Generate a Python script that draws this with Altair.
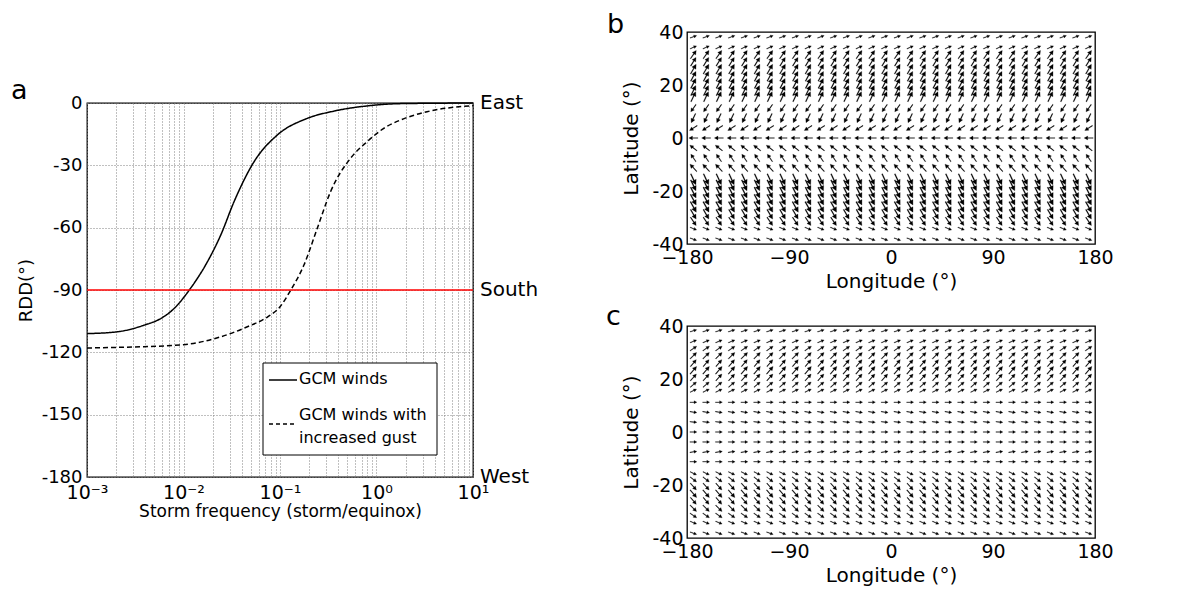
import altair as alt
import pandas as pd

FONT = "DejaVu Sans"

# ---------------- Panel a data ----------------
solid_x = [0.001, 0.00207, 0.00392, 0.00583, 0.0080, 0.01145, 0.0177, 0.0243, 0.0334,
           0.0538, 0.0938, 0.192, 0.362, 0.80, 1.77, 10]
solid_y = [-111.0, -110.1, -106.9, -103.7, -98.9, -90.1, -76.4, -63.6, -47.5,
           -28.3, -15.4, -7.4, -3.9, -1.4, -0.3, 0.0]
dash_x = [0.001, 0.00309, 0.01, 0.0225, 0.0459, 0.074, 0.1, 0.129, 0.177, 0.243,
          0.334, 0.538, 0.80, 1.19, 1.77, 3.34, 10]
dash_y = [-117.9, -117.4, -116.3, -113.0, -107.7, -103.0, -98.1, -90.1, -78.0, -60.4,
          -42.7, -26.6, -18.6, -12.2, -8.2, -4.2, -1.3]
series_names = ["GCM winds", "GCM winds with increased gust"]
legend_lines = ["GCM winds", "GCM winds with", "increased gust"]

x_major = [0.001, 0.01, 0.1, 1, 10]
x_major_labels = ["10⁻³", "10⁻²", "10⁻¹", "10⁰", "10¹"]
x_grid = [0.001, 0.002, 0.003, 0.004, 0.005, 0.006, 0.007, 0.008, 0.009,
          0.01, 0.02, 0.03, 0.04, 0.05, 0.06, 0.07, 0.08, 0.09,
          0.1, 0.2, 0.3, 0.4, 0.5, 0.6, 0.7, 0.8, 0.9,
          1, 2, 3, 4, 5, 6, 7, 8, 9, 10]
y_ticks = [-180, -150, -120, -90, -60, -30, 0]
dir_names = ["East", "South", "West"]
dir_values = [0, -90, -180]
south_line = [-90]

# ---------------- Panels b, c data ----------------
lon_centers = [-174.375, -163.125, -151.875, -140.625, -129.375, -118.125, -106.875, -95.625,
               -84.375, -73.125, -61.875, -50.625, -39.375, -28.125, -16.875, -5.625,
               5.625, 16.875, 28.125, 39.375, 50.625, 61.875, 73.125, 84.375,
               95.625, 106.875, 118.125, 129.375, 140.625, 151.875, 163.125, 174.375]
lat_rows = [38.2, 34.2, 31.5, 28.8, 26.0, 23.3, 20.6, 17.9, 15.6,
            11.25, 7.5, 3.75, 0.0, -3.75, -7.5, -11.25,
            -15.6, -17.9, -20.6, -23.3, -26.0, -28.8, -31.5, -34.2, -38.2]
# wind direction (degrees counter-clockwise from east) and relative speed per latitude row
b_dir = [20, 25, 55, 58, 60, 62, 63, 64, 65,
         235, 245, 212, 180, 142, 124, 133,
         295, 296, 297, 298, 299, 300, 304, 338, 340]
b_speed = [7, 7, 10, 10, 11, 11, 11, 11, 11,
           9, 10, 9, 9, 9, 9, 10,
           12, 12, 12, 12, 12, 11, 10, 7, 7]
c_dir = [18, 22, 35, 45, 50, 50, 48, 40, 25,
         0, 352, 355, 0, 0, 8, 0,
         335, 322, 312, 310, 310, 315, 325, 338, 340]
c_speed = [7, 7, 8, 9, 9, 10, 9, 8, 7,
           7, 7, 7, 7, 7, 7, 7,
           7, 8, 9, 10, 9, 9, 8, 7, 7]
lon_ticks = [-180, -90, 0, 90, 180]
lat_ticks = [-40, -20, 0, 20, 40]
panel_labels = ["a", "b", "c"]

ARROW = "M-1,-0.08L0.2,-0.08L0.2,-0.42L1,0L0.2,0.42L0.2,0.08L-1,0.08Z"

W_A, H_A = 386, 374
W_Q, H_Q = 408, 212

# ---------------- Panel a ----------------
label_expr = "".join(f"datum.value == {v} ? '{lab}' : " for v, lab in zip(x_major, x_major_labels)) + "''"

df_lines = pd.concat([
    pd.DataFrame({"f": solid_x, "rdd": solid_y, "series": series_names[0]}),
    pd.DataFrame({"f": dash_x, "rdd": dash_y, "series": series_names[1]}),
])

xa = alt.X("f:Q",
           scale=alt.Scale(type="log", domain=[0.001, 10], nice=False),
           axis=alt.Axis(values=x_grid, labelExpr=label_expr, title="Storm frequency (storm/equinox)",
                         grid=True, gridDash=[1, 2], gridColor="#808080", gridWidth=1,
                         labelFontSize=19, titleFontSize=17, labelPadding=6, titlePadding=1,
                         labelFlush=False, labelOverlap=False))
ya = alt.Y("rdd:Q",
           scale=alt.Scale(domain=[-180, 0], nice=False),
           axis=alt.Axis(values=y_ticks, labelExpr="'' + datum.value", title="RDD(°)",
                         grid=True, gridDash=[1, 2], gridColor="#808080", gridWidth=1,
                         labelFontSize=18, titleFontSize=18, labelPadding=5, titlePadding=6))

lines = alt.Chart(df_lines).mark_line(color="black", strokeWidth=1.5, interpolate="monotone").encode(
    x=xa, y=ya,
    strokeDash=alt.StrokeDash("series:N", scale=alt.Scale(domain=series_names, range=[[1, 0], [5, 3]]),
                              legend=None),
)
red = alt.Chart(pd.DataFrame({"rdd": south_line})).mark_rule(color="#ff0000", strokeWidth=1.6).encode(
    y=alt.Y("rdd:Q"))
dirs = alt.Chart(pd.DataFrame({"name": dir_names, "rdd": dir_values})).mark_text(
    align="left", baseline="middle", fontSize=20, font=FONT, color="black").encode(
    x=alt.value(W_A + 7), y=alt.Y("rdd:Q"), text="name:N")
lab_a = alt.Chart(pd.DataFrame({"t": [panel_labels[0]]})).mark_text(
    align="left", baseline="alphabetic", fontSize=27, font=FONT, color="black").encode(
    x=alt.value(-76), y=alt.value(-4), text="t:N")

leg_box = alt.Chart(pd.DataFrame({"k": [0]})).mark_rect(fill="white", stroke="black", strokeWidth=1).encode(
    x=alt.value(176), x2=alt.value(350), y=alt.value(260), y2=alt.value(352))
leg_solid = alt.Chart(pd.DataFrame({"k": [0]})).mark_rule(color="black", strokeWidth=1.5).encode(
    x=alt.value(182), x2=alt.value(210), y=alt.value(277))
leg_dash = alt.Chart(pd.DataFrame({"k": [0]})).mark_rule(color="black", strokeWidth=1.5, strokeDash=[4, 3]).encode(
    x=alt.value(182), x2=alt.value(210), y=alt.value(321))
leg_t1 = alt.Chart(pd.DataFrame({"t": [legend_lines[0]]})).mark_text(
    align="left", baseline="middle", fontSize=16, font=FONT, color="black").encode(
    x=alt.value(212), y=alt.value(276), text="t:N")
leg_t2 = alt.Chart(pd.DataFrame({"t": [legend_lines[1]]})).mark_text(
    align="left", baseline="middle", fontSize=16, font=FONT, color="black").encode(
    x=alt.value(212), y=alt.value(312), text="t:N")
leg_t3 = alt.Chart(pd.DataFrame({"t": [legend_lines[2]]})).mark_text(
    align="left", baseline="middle", fontSize=16, font=FONT, color="black").encode(
    x=alt.value(212), y=alt.value(335), text="t:N")

panel_a = alt.layer(lines, red, dirs, lab_a, leg_box, leg_solid, leg_dash, leg_t1, leg_t2, leg_t3).properties(
    width=W_A, height=H_A)

spacer = alt.Chart(pd.DataFrame({"k": [0]})).mark_point(opacity=0).encode(
    x=alt.value(0), y=alt.value(0)).properties(width=W_A, height=1, view=alt.ViewBackground(stroke="transparent"))


# ---------------- Panels b, c ----------------
def quiver(dirs_, speeds_, label, lx, ly):
    recs = []
    for la, d, s in zip(lat_rows, dirs_, speeds_):
        for lo in lon_centers:
            recs.append({"lon": lo, "lat": la, "dir": d, "spd": s})
    df = pd.DataFrame(recs)
    arrows = alt.Chart(df).transform_calculate(rot="(360 - datum.dir) % 360").mark_point(
        shape=ARROW, filled=True, fill="black", stroke="black", strokeWidth=0.25, opacity=1).encode(
        x=alt.X("lon:Q", scale=alt.Scale(domain=[-180, 180], nice=False),
                axis=alt.Axis(values=lon_ticks, title="Longitude (°)", labelFontSize=19, titleFontSize=20,
                              labelPadding=4, titlePadding=4, labelFlush=False, grid=False)),
        y=alt.Y("lat:Q", scale=alt.Scale(domain=[-40, 40], nice=False),
                axis=alt.Axis(values=lat_ticks, labelExpr="'' + datum.value", title="Latitude (°)",
                              labelFontSize=19, titleFontSize=20, labelPadding=4, titlePadding=10,
                              grid=False)),
        angle=alt.Angle("rot:Q", scale=None),
        size=alt.Size("spd:Q", scale=alt.Scale(type="pow", exponent=2, domain=[0, 12], range=[0, 144]),
                      legend=None),
    )
    lab = alt.Chart(pd.DataFrame({"t": [label]})).mark_text(
        align="left", baseline="alphabetic", fontSize=27, font=FONT, color="black").encode(
        x=alt.value(lx), y=alt.value(ly), text="t:N")
    return alt.layer(arrows, lab).properties(width=W_Q, height=H_Q)


panel_b = quiver(b_dir, b_speed, panel_labels[1], -80, 1)
panel_c = quiver(c_dir, c_speed, panel_labels[2], -81, -1)

left = alt.vconcat(spacer, panel_a, spacing=70, bounds="flush")
right = alt.vconcat(panel_b, panel_c, spacing=82, bounds="flush")

chart = alt.hconcat(left, right, spacing=600, bounds="flush").properties(
    padding={"left": 2, "top": 2, "right": 5, "bottom": 5}
).configure_axis(
    labelFont=FONT, titleFont=FONT, labelColor="black", titleColor="black",
    titleFontWeight="normal", domain=False, ticks=False
).configure_view(stroke="black", strokeWidth=1.3)

chart.save("out.html", embed_options={"renderer": "svg", "actions": False})
